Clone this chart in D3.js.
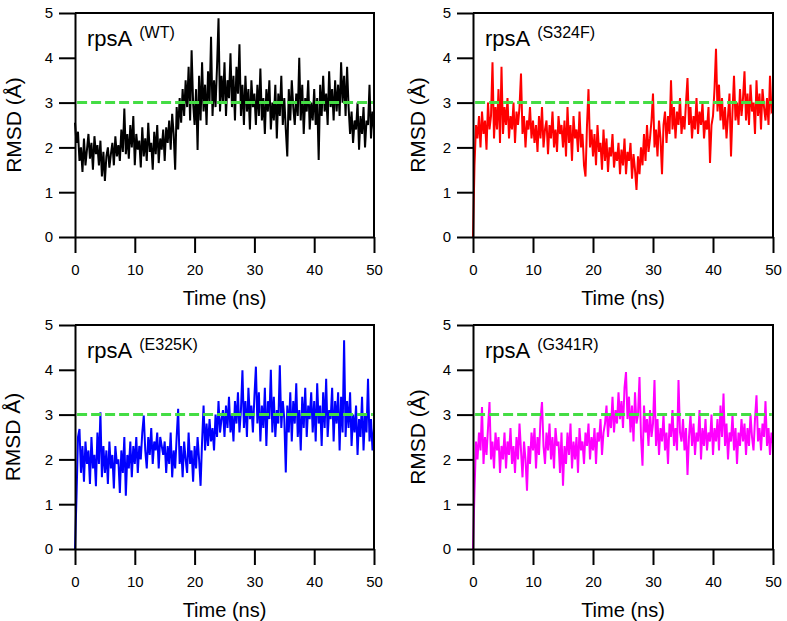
<!DOCTYPE html>
<html><head><meta charset="utf-8">
<script src="https://cdn.jsdelivr.net/npm/d3@7"></script>
<style>
body{margin:0;background:#fff}
svg{display:block}
text{font-family:"Liberation Sans",Arial,Helvetica,sans-serif;fill:#000}
</style>
</head><body>
<svg id="c" width="787" height="621"></svg>
<script>
// ---- data ----
const timeStep = 0.25;           // ns between samples
const xTicks = [0, 10, 20, 30, 40, 50];
const yTicks = [0, 1, 2, 3, 4, 5];
const threshold = 3;
const titleMain = "rpsA";
const titleSup = ["(WT)", "(S324F)", "(E325K)", "(G341R)"];
const yLabels = ["RMSD (Å)", "RMSD (Å)", "RMSD Å)", "RMSD (Å)"];
const xLabel = "Time (ns)";

const rmsdWT = [
2.55,2.1,2.35,1.7,2.0,1.45,2.2,1.6,1.95,2.3,1.75,2.1,1.5,2.25,1.85,2.05,1.6,2.15,1.35,1.9,
1.25,1.8,2.0,1.55,1.85,2.1,1.6,2.25,1.8,2.05,1.7,2.4,1.9,2.87,1.85,2.3,1.75,2.5,2.0,2.7,
1.6,2.3,1.95,2.15,1.55,2.45,1.8,2.2,1.7,2.55,1.9,2.1,1.5,2.35,1.85,2.5,1.65,2.2,1.95,2.4,
1.7,2.45,2.1,2.6,1.95,2.75,2.3,1.5,2.9,2.4,3.1,2.55,3.3,2.7,3.5,2.9,3.8,2.6,4.17,3.0,
2.5,3.3,1.94,3.6,2.6,3.9,2.8,3.4,2.5,3.7,3.0,4.47,2.7,3.5,2.9,3.8,4.88,2.8,3.6,3.0,
3.9,2.7,3.5,3.1,4.1,2.9,3.6,2.6,3.8,3.2,4.3,2.7,3.4,2.5,3.6,2.8,3.3,2.4,3.5,2.9,
3.2,2.5,3.4,2.7,3.76,2.6,3.1,2.3,3.3,2.8,3.5,2.4,3.0,2.6,3.4,2.2,3.2,2.7,3.6,2.5,
3.1,2.4,1.8,3.3,2.6,3.5,2.9,2.5,3.2,2.7,4.0,2.6,3.4,2.3,3.1,2.8,3.5,2.4,3.0,2.6,
3.3,2.5,3.1,1.72,3.4,2.7,3.6,2.8,3.2,2.5,3.7,2.9,3.3,2.6,3.5,2.8,3.4,2.7,3.9,3.0,
3.6,2.7,3.8,2.9,2.3,2.8,2.1,2.6,2.4,3.0,1.95,2.7,2.3,2.9,2.0,2.6,2.5,3.4,2.2,2.8,2.4];

const rmsdS324F = [
0,1.6,2.5,2.2,2.7,2.0,2.8,2.3,2.6,1.95,3.0,2.4,2.7,3.9,2.2,2.9,2.4,3.3,2.1,3.8,
2.3,2.9,2.5,3.1,2.2,2.7,2.4,3.0,2.1,2.8,2.5,2.9,3.65,2.3,2.7,2.0,2.6,2.4,2.9,2.2,
2.6,2.1,2.5,1.9,2.7,2.2,2.9,2.0,2.4,2.6,1.85,2.5,2.2,2.8,2.0,2.4,1.9,2.7,2.3,2.5,
2.0,2.6,1.8,2.9,2.1,2.5,1.7,2.7,2.2,2.4,1.9,2.8,2.0,2.3,1.6,1.35,2.5,3.3,2.0,2.4,
1.8,2.3,1.6,2.5,1.9,2.1,1.5,2.4,1.7,2.2,1.45,2.0,1.8,2.3,1.55,1.9,1.7,2.1,1.4,1.95,
1.6,2.2,1.4,1.9,1.7,2.1,1.3,1.85,1.5,1.05,1.8,1.4,2.0,1.6,2.3,1.7,2.5,1.9,2.2,2.6,
3.2,2.0,2.4,1.8,2.6,2.2,1.4,2.5,2.8,2.1,2.7,2.3,3.5,2.4,2.9,2.2,2.8,2.5,3.1,2.3,
2.7,2.4,3.0,3.55,2.5,2.9,2.2,2.7,2.4,3.1,2.3,2.8,2.5,3.0,2.2,2.6,2.4,2.9,1.65,2.5,
2.7,3.3,4.2,2.8,3.4,2.6,3.1,2.4,2.9,2.2,2.7,3.2,1.8,2.8,3.6,2.6,3.0,2.5,3.3,2.7,
3.1,3.7,2.6,3.2,2.5,3.4,2.8,3.0,2.3,3.5,2.7,3.2,2.4,3.3,2.9,2.6,3.1,2.5,3.6,2.8,2.85];

const rmsdE325K = [
0,1.15,2.5,2.68,1.7,2.3,1.5,2.4,1.9,2.2,1.45,2.5,1.8,2.1,1.4,2.6,1.9,3.05,1.6,2.3,
1.7,2.2,1.45,2.4,1.8,2.1,1.35,2.3,1.9,2.0,1.25,2.2,1.7,2.5,1.19,2.1,1.8,2.4,1.6,2.3,
1.9,2.5,1.7,2.3,2.0,2.6,2.98,2.2,1.8,2.5,2.1,2.7,1.9,2.4,2.2,2.6,1.8,2.5,2.3,2.1,
2.4,1.7,2.3,1.9,2.6,1.6,2.2,1.8,2.5,3.13,1.9,2.3,1.6,2.4,2.0,1.7,2.6,1.9,2.2,1.5,
2.3,1.8,2.5,2.0,1.41,2.4,3.2,2.2,2.8,2.3,2.9,2.4,2.7,2.2,3.0,2.5,3.3,2.6,2.9,3.1,
2.5,3.2,2.7,3.4,2.6,3.0,2.4,3.3,2.8,3.5,2.6,3.1,3.99,2.7,3.3,2.5,3.6,2.9,3.2,2.6,
3.4,4.07,2.8,3.5,2.4,3.2,2.7,3.6,2.3,3.3,2.9,4.0,2.6,3.4,2.5,3.1,2.8,4.1,2.7,3.3,
2.9,1.71,3.2,2.6,3.5,2.4,3.3,2.8,3.7,2.5,3.1,2.2,3.4,2.7,3.6,2.5,3.2,2.9,3.5,2.6,
3.3,2.4,3.7,2.8,3.2,2.3,3.5,2.7,3.8,2.5,3.1,2.9,3.6,2.4,3.3,2.8,3.5,2.2,3.4,2.6,
4.66,2.5,3.3,2.7,3.5,2.3,3.0,2.6,3.2,2.1,2.9,2.5,3.4,2.2,3.0,2.6,3.8,2.4,2.9,2.2,2.7];

const rmsdG341R = [
0,1.3,2.4,2.0,2.6,2.2,3.17,1.9,2.5,2.1,2.7,3.28,2.0,2.4,1.8,2.6,2.2,2.5,1.7,2.3,
2.0,2.6,1.8,2.4,2.1,2.7,1.9,2.3,1.7,2.5,2.0,2.8,2.2,1.6,2.4,2.0,1.3,2.3,1.9,2.6,
2.2,2.7,1.8,2.5,2.1,2.9,3.28,2.3,1.9,2.6,2.2,2.8,2.0,2.5,1.8,2.7,2.3,2.4,1.7,2.6,
1.41,2.3,1.9,2.6,2.1,2.8,1.8,2.4,2.0,2.5,1.7,2.7,2.2,2.4,1.9,2.6,2.3,2.8,2.0,2.5,
2.2,2.7,1.9,2.6,2.4,2.9,2.1,2.6,2.8,3.2,2.5,3.0,2.7,3.4,2.6,3.1,2.8,3.5,2.9,3.3,
2.7,3.6,3.95,2.9,3.4,2.6,3.2,2.4,3.5,2.8,3.0,3.84,2.5,1.86,3.2,2.6,2.9,2.3,3.1,2.5,
2.8,3.77,2.3,2.9,2.1,2.7,2.4,3.0,2.2,2.6,1.9,2.8,2.5,3.1,2.3,2.7,2.2,3.77,2.6,2.4,
2.9,2.2,2.7,1.65,2.5,3.0,2.3,2.8,2.1,2.6,2.4,3.1,2.0,2.7,2.3,2.9,2.2,2.6,2.4,3.0,
2.1,2.7,2.4,2.9,2.2,3.2,2.5,3.47,2.3,2.8,2.0,2.6,2.4,3.0,2.2,2.7,1.9,2.6,2.3,2.9,
2.4,2.8,2.1,2.7,2.3,3.0,2.5,2.2,2.9,3.43,2.4,2.7,2.2,2.8,2.5,3.3,2.3,2.7,2.1,2.6,2.35];

const seriesList = [rmsdWT, rmsdS324F, rmsdE325K, rmsdG341R];
const colors = ["#000000", "#ff0000", "#0000ff", "#ff00ff"];

// ---- layout ----
const panels = [
  {x0: 75,  x1: 374, y0: 13,  y1: 237, ylx: 21},
  {x0: 473, x1: 773, y0: 13,  y1: 237, ylx: 425},
  {x0: 75,  x1: 374, y0: 325, y1: 549, ylx: 20},
  {x0: 473, x1: 773, y0: 325, y1: 549, ylx: 425}
];

const svg = d3.select("#c");

panels.forEach((p, k) => {
  const data = seriesList[k];
  const g = svg.append("g");
  const x = d3.scaleLinear().domain([0, 50]).range([p.x0, p.x1]);
  const y = d3.scaleLinear().domain([0, 5]).range([p.y1, p.y0]);

  const line = d3.line()
    .x((d, i) => x(i * timeStep))
    .y(d => y(d));

  g.append("path")
    .datum(data)
    .attr("d", line)
    .attr("fill", "none")
    .attr("stroke", colors[k])
    .attr("stroke-width", 2)
    .attr("stroke-linejoin", "miter");

  // threshold dashed line
  g.append("line")
    .attr("x1", x(0.35)).attr("x2", x(49.8))
    .attr("y1", y(threshold)).attr("y2", y(threshold))
    .attr("stroke", "#44dd44")
    .attr("stroke-width", 3)
    .attr("stroke-dasharray", "10,4");

  // frame top & right
  g.append("path")
    .attr("d", `M${x(0)},${y(5)}H${x(50)}V${y(0)}`)
    .attr("fill", "none").attr("stroke", "#000").attr("stroke-width", 2);

  const xa = g.append("g")
    .attr("transform", `translate(0,${y(0)})`)
    .call(d3.axisBottom(x).tickValues(xTicks).tickFormat(d3.format("d"))
      .tickSize(16).tickSizeOuter(0).tickPadding(11));
  const ya = g.append("g")
    .attr("transform", `translate(${x(0)},0)`)
    .call(d3.axisLeft(y).tickValues(yTicks).tickFormat(d3.format("d"))
      .tickSize(16).tickSizeOuter(0).tickPadding(6));
  [xa, ya].forEach(a => {
    a.selectAll("path,line").attr("stroke", "#000").attr("stroke-width", 2);
    a.selectAll("text").attr("font-size", 15).attr("fill", "#000")
      .style("font-family", '"Liberation Sans",Arial,sans-serif');
  });

  // title
  const t = g.append("text")
    .attr("x", p.x0 + 12)
    .attr("y", p.y0 + 33);
  t.append("tspan").attr("font-size", 22).text(titleMain);
  t.append("tspan").attr("font-size", 16).attr("dx", 7).attr("dy", -8).text(titleSup[k]);

  // axis labels
  g.append("text")
    .attr("x", (p.x0 + p.x1) / 2)
    .attr("y", p.y1 + 68)
    .attr("text-anchor", "middle")
    .attr("font-size", 20)
    .text(xLabel);
  g.append("text")
    .attr("transform", `translate(${p.ylx},${(p.y0 + p.y1) / 2}) rotate(-90)`)
    .attr("text-anchor", "middle")
    .attr("font-size", 21)
    .text(yLabels[k]);
});
</script>
</body></html>
